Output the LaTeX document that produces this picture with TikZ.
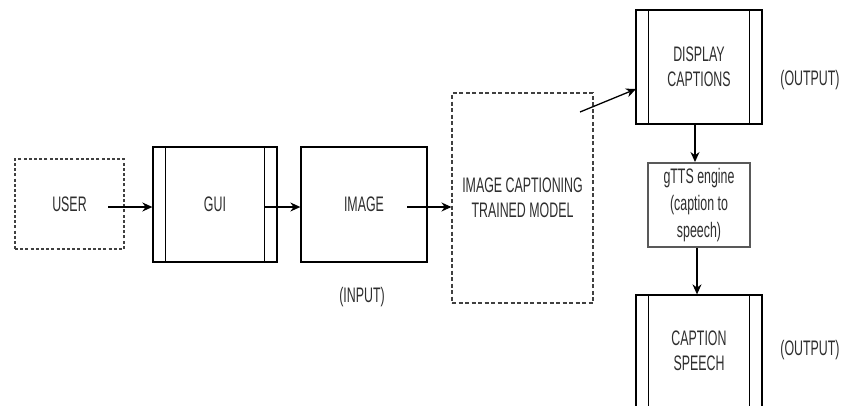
\documentclass[tikz,border=0pt]{standalone}
\usepackage{fontspec}
\setmainfont[FakeStretch=0.59]{Liberation Sans}
\usetikzlibrary{arrows.meta}
\definecolor{txt}{HTML}{2E2E2E}
\tikzset{
  box/.style={draw=black, line width=1.3pt, fill=white, text=txt, align=center,
    font=\fontsize{21}{25}\selectfont, inner sep=0pt},
  dbox/.style={box, line width=1.1pt, draw=black!75, dash pattern=on 3pt off 2.2pt},
  gbox/.style={box, draw=black!65, line width=2pt, font=\fontsize{21}{27}\selectfont},
  lbl/.style={text=txt, font=\fontsize{21}{25}\selectfont, inner sep=0pt},
  arr/.style={draw=black, line width=1.3pt, -{Stealth[length=10pt,width=9pt]}},
  side/.style={draw=black, line width=1.1pt}
}
\begin{document}
\begin{tikzpicture}[x=1pt,y=-1pt]
\useasboundingbox (0,0) rectangle (841,405);
\clip (0,0) rectangle (841,405);
\fill[white] (0,0) rectangle (841,405);
% nodes
\node[dbox, minimum width=109pt, minimum height=90pt] (user) at (69.5,204) {USER};
\node[box, minimum width=124pt, minimum height=115pt] (gui) at (215,204.5) {GUI};
\node[box, minimum width=126pt, minimum height=115pt] (img) at (364,204.5) {IMAGE};
\node[dbox, dash pattern=on 4pt off 2.5pt, minimum width=141pt, minimum height=210pt] (model) at (522.5,198) {IMAGE CAPTIONING\\TRAINED MODEL};
\node[box, minimum width=126pt, minimum height=114pt] (disp) at (699,67) {DISPLAY\\CAPTIONS};
\node[gbox, minimum width=102pt, minimum height=84pt] (gtts) at (699,205) {gTTS engine\\(caption to\\speech)};
\node[box, minimum width=126pt, minimum height=112pt] (cap) at (699,351) {CAPTION\\SPEECH};
% side lines of process boxes
\foreach \n in {gui,disp,cap}{
  \draw[side] ([xshift=13pt]\n.north west) -- ([xshift=13pt]\n.south west);
  \draw[side] ([xshift=-13pt]\n.north east) -- ([xshift=-13pt]\n.south east);
}
% labels
\node[lbl] (inp) at (362,297) {(INPUT)};
\node[lbl] (out1) at (810,80) {(OUTPUT)};
\node[lbl] (out2) at (810,350) {(OUTPUT)};
% connectors
\coordinate (u1) at (108,207);
\draw[arr] (u1) -- (u1 -| gui.west);
\coordinate (g1) at (265,207);
\draw[arr] (g1) -- (g1 -| img.west);
\coordinate (i1) at (407,207);
\draw[arr] (i1) -- (i1 -| model.west);
\coordinate (m1) at (580,112);
\coordinate (d1) at (636,89);
\draw[arr] (m1) -- (d1);
\draw[arr] (disp.south -| 695,0) -- (gtts.north -| 695,0);
\draw[arr] (gtts.south -| 697,0) -- (cap.north -| 697,0);
\end{tikzpicture}
\end{document}
